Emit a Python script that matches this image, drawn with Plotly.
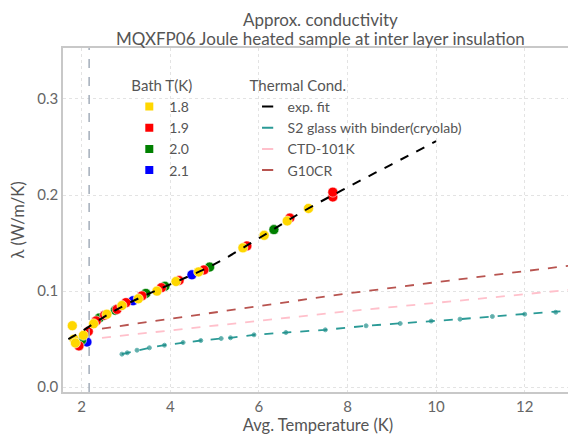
import plotly.graph_objects as go

# ---- data ----
t18 = [1.79, 1.83, 1.86, 2.04, 2.27, 2.57, 2.91, 3.28, 3.70, 4.13, 4.64, 5.64, 6.12, 6.64, 7.12]
k18 = [0.064, 0.050, 0.046, 0.054, 0.066, 0.076, 0.085, 0.092, 0.100, 0.110, 0.120, 0.145, 0.158, 0.173, 0.186]
t19 = [1.94, 2.15, 2.33, 2.52, 2.80, 3.00, 3.36, 3.80, 4.20, 4.76, 5.73, 6.70, 7.67, 7.67]
k19 = [0.043, 0.058, 0.069, 0.075, 0.081, 0.088, 0.095, 0.1035, 0.111, 0.122, 0.147, 0.176, 0.198, 0.203]
t20 = [2.00, 2.40, 2.76, 3.45, 3.88, 4.89, 6.34]
k20 = [0.049, 0.072, 0.080, 0.0976, 0.105, 0.125, 0.164]
t21 = [2.12, 3.16, 4.49]
k21 = [0.047, 0.090, 0.117]

fit_t = [1.7, 2.0, 2.5, 3.0, 3.5, 4.0, 5.0, 6.0, 7.0, 8.0, 9.0, 10.0]
fit_k = [0.050, 0.058, 0.073, 0.086, 0.097, 0.107, 0.128, 0.155, 0.183, 0.208, 0.232, 0.256]

s2_t = [2.91, 3.03, 3.25, 3.53, 3.87, 4.29, 4.69, 5.15, 5.36, 5.89, 6.61, 7.50, 8.42, 9.19, 9.89, 10.54, 11.27, 12.00, 12.70, 13.09]
s2_k = [0.0344, 0.0358, 0.0385, 0.041, 0.0437, 0.0465, 0.0486, 0.0507, 0.0514, 0.0545, 0.0569, 0.0597, 0.0639, 0.0663, 0.0688, 0.0708, 0.0736, 0.076, 0.078, 0.080]

ctd_t = [2.46, 5.0, 8.0, 10.5, 13.09]
ctd_k = [0.0514, 0.064, 0.079, 0.090, 0.1017]

g10_t = [2.46, 5.0, 8.0, 10.3, 13.09]
g10_k = [0.061, 0.078, 0.0976, 0.111, 0.127]

lambda_point = 2.17

bath_labels = ["1.8", "1.9", "2.0", "2.1"]
bath_colors = ["#ffd700", "#ff0000", "#008000", "#0000ff"]

cond_names = ["exp. fit", "S2 glass with binder(cryolab)", "CTD-101K", "G10CR"]
cond_colors = ["#000000", "#2a9a96", "#ffc0cb", "#b85450"]

title_lines = ["Approx. conductivity", "MQXFP06 Joule heated sample at inter layer insulation"]

font_family = "Lato, 'Open Sans', sans-serif"
txt = "#555555"

fig = go.Figure()

# reference lines
fig.add_trace(go.Scatter(x=g10_t, y=g10_k, mode="lines", showlegend=False,
                         line=dict(color=cond_colors[3], dash="dash", width=1.8)))
fig.add_trace(go.Scatter(x=ctd_t, y=ctd_k, mode="lines", showlegend=False,
                         line=dict(color=cond_colors[2], dash="dash", width=1.8)))
fig.add_trace(go.Scatter(x=s2_t, y=s2_k, mode="lines+markers", showlegend=False,
                         line=dict(color=cond_colors[1], dash="dash", width=1.8),
                         marker=dict(size=[4] * (len(s2_t) - 1) + [0], color="#1f8a86")))

# measured points (drawn in reverse so 1.8 K lies on top)
for tt, kk, col in [(t21, k21, bath_colors[3]), (t20, k20, bath_colors[2]),
                    (t19, k19, bath_colors[1]), (t18, k18, bath_colors[0])]:
    fig.add_trace(go.Scatter(x=tt, y=kk, mode="markers", showlegend=False,
                             marker=dict(size=10, color=col, line=dict(color="rgba(255,255,255,0.7)", width=0.8))))

# exp fit
fig.add_trace(go.Scatter(x=fit_t, y=fit_k, mode="lines", showlegend=False,
                         line=dict(color=cond_colors[0], dash="dash", width=2), line_shape="spline"))

# legend entries for bath temperatures
for i, (lab, col) in enumerate(zip(bath_labels, bath_colors)):
    fig.add_trace(go.Scatter(x=[None], y=[None], mode="markers", name=lab, legend="legend", legendrank=i + 1,
                             marker=dict(symbol="square", size=8, color=col)))
# legend entries for thermal conductivity curves
for i, (lab, col) in enumerate(zip(cond_names, cond_colors)):
    fig.add_trace(go.Scatter(x=[None], y=[None], mode="markers", name=lab, legend="legend2", legendrank=i + 1,
                             marker=dict(symbol="line-ew-open", size=8, color=col, line=dict(color=col, width=2))))

fig.add_vline(x=lambda_point, line=dict(color="#a3adba", dash="dash", width=1.5))

# two-line title
for line_text, ypos in zip(title_lines, [1.084, 1.027]):
    fig.add_annotation(text=line_text, xref="paper", yref="paper", x=0.504, y=ypos,
                       xanchor="center", yanchor="middle", showarrow=False,
                       font=dict(size=17, color=txt, family=font_family))

fig.update_layout(
    width=568, height=439,
    margin=dict(l=55, r=3, t=40, b=55, autoexpand=False),
    paper_bgcolor="white", plot_bgcolor="white",
    font=dict(family=font_family, color=txt, size=14),
    legend=dict(title=dict(text="Bath T(K)", font=dict(size=15)), x=0.13, xanchor="left", y=0.932, yanchor="top",
                bgcolor="rgba(0,0,0,0)", itemwidth=30, tracegroupgap=0, font=dict(size=14),
                traceorder="normal"),
    legend2=dict(title=dict(text="Thermal Cond.", font=dict(size=15)), x=0.362, xanchor="left", y=0.932,
                 yanchor="top", bgcolor="rgba(0,0,0,0)", itemwidth=30, tracegroupgap=0, font=dict(size=14),
                 traceorder="normal"),
    xaxis=dict(range=[1.58, 13.09], tickvals=[2, 4, 6, 8, 10, 12], showgrid=True, gridcolor="#e3e3e3",
               griddash="dot", zeroline=False, showline=True, linecolor="#c8c8c8", linewidth=1.5, mirror=True,
               ticks="", ticklen=0, tickfont=dict(size=15, color="#666"), automargin=False,
               title=dict(text="Avg. Temperature (K)", font=dict(size=16.5, color=txt), standoff=6)),
    yaxis=dict(range=[-0.005, 0.353], tickvals=[0.0, 0.1, 0.2, 0.3], tickformat=".1f", showgrid=True,
               gridcolor="#e3e3e3", griddash="dot", zeroline=False, showline=True, linecolor="#c8c8c8",
               linewidth=1.5, mirror=True, ticks="", ticklen=0, tickfont=dict(size=15, color="#666"),
               automargin=False,
               title=dict(text="λ (W/m/K)", font=dict(size=16.5, color=txt), standoff=12)),
)

fig.write_html("out.html")
